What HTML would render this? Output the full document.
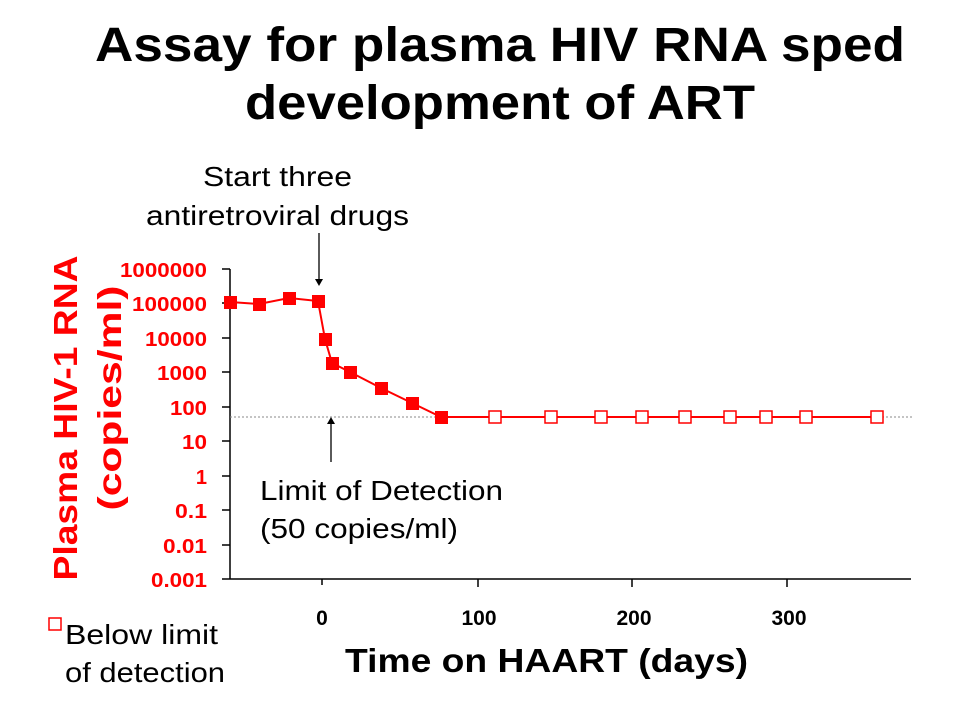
<!DOCTYPE html>
<html><head><meta charset="utf-8"><style>
body{margin:0;background:#fff;}
svg{display:block;font-family:"Liberation Sans",Arial,sans-serif;}
</style></head><body>
<svg width="960" height="720" xmlns="http://www.w3.org/2000/svg">
<text x="95" y="61" font-size="48" font-weight="bold" textLength="810" lengthAdjust="spacingAndGlyphs">Assay for plasma HIV RNA sped</text>
<text x="245" y="119" font-size="48" font-weight="bold" textLength="510" lengthAdjust="spacingAndGlyphs">development of ART</text>
<text x="203" y="186" font-size="28" textLength="149" lengthAdjust="spacingAndGlyphs">Start three</text>
<text x="146" y="225" font-size="28" textLength="263" lengthAdjust="spacingAndGlyphs">antiretroviral drugs</text>
<line x1="319" y1="233" x2="319" y2="280" stroke="#000" stroke-width="1.3"/>
<polygon points="315,279 323,279 319,286" fill="#000"/>
<line x1="331" y1="462" x2="331" y2="423" stroke="#000" stroke-width="1.3"/>
<polygon points="327,424 335,424 331,417" fill="#000"/>
<text x="260" y="500" font-size="28" textLength="243" lengthAdjust="spacingAndGlyphs">Limit of Detection</text>
<text x="260" y="538" font-size="28" textLength="198" lengthAdjust="spacingAndGlyphs">(50 copies/ml)</text>
<g transform="translate(77,418) rotate(-90)" fill="#f00" font-size="33" font-weight="bold" text-anchor="middle">
<text x="0" y="0" textLength="325" lengthAdjust="spacingAndGlyphs">Plasma HIV-1 RNA</text>
<text x="20" y="44" textLength="225" lengthAdjust="spacingAndGlyphs">(copies/ml)</text>
</g>
<g fill="#f00" font-size="20" font-weight="bold" text-anchor="end">
<text x="207" y="277" textLength="87" lengthAdjust="spacingAndGlyphs">1000000</text>
<text x="207" y="311" textLength="75" lengthAdjust="spacingAndGlyphs">100000</text>
<text x="207" y="346" textLength="62" lengthAdjust="spacingAndGlyphs">10000</text>
<text x="207" y="380" textLength="50" lengthAdjust="spacingAndGlyphs">1000</text>
<text x="207" y="415" textLength="37" lengthAdjust="spacingAndGlyphs">100</text>
<text x="207" y="449" textLength="25" lengthAdjust="spacingAndGlyphs">10</text>
<text x="207" y="484">1</text>
<text x="207" y="518" textLength="32" lengthAdjust="spacingAndGlyphs">0.1</text>
<text x="207" y="553" textLength="44" lengthAdjust="spacingAndGlyphs">0.01</text>
<text x="207" y="587" textLength="56" lengthAdjust="spacingAndGlyphs">0.001</text>
</g>
<g stroke="#000" stroke-width="1.5">
<line x1="230" y1="269" x2="230" y2="579"/>
<line x1="230" y1="579" x2="911" y2="579"/>
<line x1="222" y1="269" x2="230" y2="269"/>
<line x1="222" y1="303" x2="230" y2="303"/>
<line x1="222" y1="338" x2="230" y2="338"/>
<line x1="222" y1="372" x2="230" y2="372"/>
<line x1="222" y1="407" x2="230" y2="407"/>
<line x1="222" y1="441" x2="230" y2="441"/>
<line x1="222" y1="476" x2="230" y2="476"/>
<line x1="222" y1="510" x2="230" y2="510"/>
<line x1="222" y1="545" x2="230" y2="545"/>
<line x1="222" y1="579" x2="230" y2="579"/>
<line x1="322" y1="579" x2="322" y2="585"/>
<line x1="478" y1="579" x2="478" y2="587"/>
<line x1="632" y1="579" x2="632" y2="587"/>
<line x1="787" y1="579" x2="787" y2="587"/>
</g>
<g font-size="21" font-weight="bold" text-anchor="middle">
<text x="322" y="625">0</text>
<text x="479" y="625">100</text>
<text x="634" y="625">200</text>
<text x="789" y="625">300</text>
</g>
<text x="345" y="672" font-size="33" font-weight="bold" textLength="403" lengthAdjust="spacingAndGlyphs">Time on HAART (days)</text>
<line x1="230" y1="417" x2="913" y2="417" stroke="#888" stroke-width="1" stroke-dasharray="2,2"/>
<polyline fill="none" stroke="#f00" stroke-width="2" points="230,302 259,304 289,298 318,301 325,339 332,363 350,372 381,388 412,403 441,417 877,417"/>
<g fill="#f00">
<rect x="224" y="296" width="13" height="13"/>
<rect x="253" y="298" width="13" height="13"/>
<rect x="283" y="292" width="13" height="13"/>
<rect x="312" y="295" width="13" height="13"/>
<rect x="319" y="333" width="13" height="13"/>
<rect x="326" y="357" width="13" height="13"/>
<rect x="344" y="366" width="13" height="13"/>
<rect x="375" y="382" width="13" height="13"/>
<rect x="406" y="397" width="13" height="13"/>
<rect x="435" y="411" width="13" height="13"/>
</g>
<g fill="#fff" stroke="#f00" stroke-width="1.5">
<rect x="489" y="411" width="12" height="12"/>
<rect x="545" y="411" width="12" height="12"/>
<rect x="595" y="411" width="12" height="12"/>
<rect x="636" y="411" width="12" height="12"/>
<rect x="679" y="411" width="12" height="12"/>
<rect x="724" y="411" width="12" height="12"/>
<rect x="760" y="411" width="12" height="12"/>
<rect x="800" y="411" width="12" height="12"/>
<rect x="871" y="411" width="12" height="12"/>
<rect x="49" y="618" width="12" height="12"/>
</g>
<text x="65" y="644" font-size="28" textLength="153" lengthAdjust="spacingAndGlyphs">Below limit</text>
<text x="65" y="682" font-size="28" textLength="160" lengthAdjust="spacingAndGlyphs">of detection</text>
</svg>
</body></html>
